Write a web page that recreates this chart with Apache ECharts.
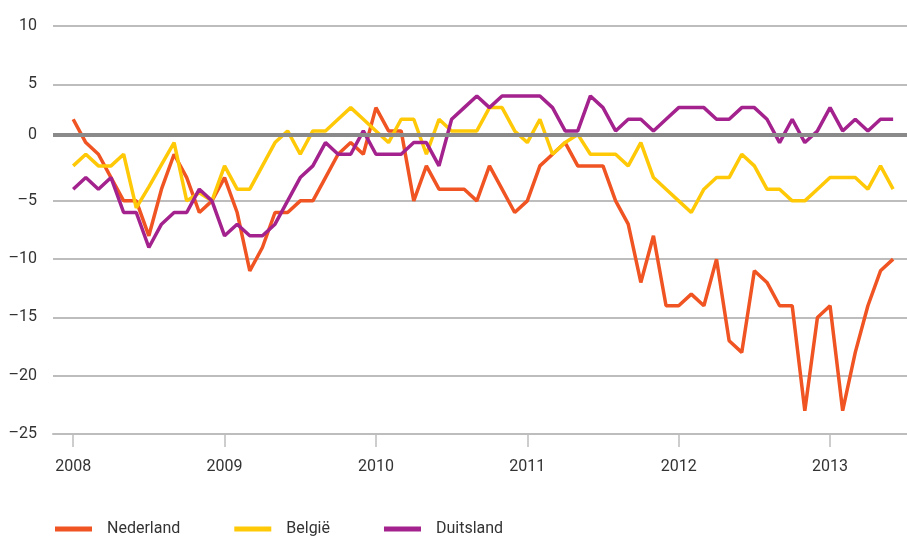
<!DOCTYPE html>
<html>
<head>
<meta charset="utf-8">
<script src="https://cdn.jsdelivr.net/npm/echarts@6/dist/echarts.min.js"></script>
<style>
  html, body { margin: 0; padding: 0; background: #fff; }
  #chart { width: 907px; height: 538px; }
</style>
</head>
<body>
<div id="chart"></div>
<script>
// maandcijfers jan 2008 t/m jun 2013
const years = [2008, 2009, 2010, 2011, 2012, 2013];
const yTicks = [-25, -20, -15, -10, -5, 0, 5, 10];

const nederland = [
  2, 0, -1, -3, -5, -5, -8, -4, -1, -3, -6, -5,
  -3, -6, -11, -9, -6, -6, -5, -5, -3, -1, 0, -1,
  3, 1, 1, -5, -2, -4, -4, -4, -5, -2, -4, -6,
  -5, -2, -1, 0, -2, -2, -2, -5, -7, -12, -8, -14,
  -14, -13, -14, -10, -17, -18, -11, -12, -14, -14, -23, -15,
  -14, -23, -18, -14, -11, -10
];
const belgie = [
  -2, -1, -2, -2, -1, -5.6, -3.8, -1.9, 0, -5, -4.3, -5,
  -2, -4, -4, -2, 0, 1, -1, 1, 1, 2, 3, 2,
  1, 0, 2, 2, -1, 2, 1, 1, 1, 3, 3, 1,
  0, 2, -1, 0, 0.7, -1, -1, -1, -2, 0, -3, -4,
  -5, -6, -4, -3, -3, -1, -2, -4, -4, -5, -5, -4,
  -3, -3, -3, -4, -2, -4
];
const duitsland = [
  -4, -3, -4, -3, -6, -6, -9, -7, -6, -6, -4, -5,
  -8, -7, -8, -8, -7, -5, -3, -2, 0, -1, -1, 1,
  -1, -1, -1, 0, 0, -2, 2, 3, 4, 3, 4, 4,
  4, 4, 3, 1, 1, 4, 3, 1, 2, 2, 1, 2,
  3, 3, 3, 2, 2, 3, 3, 2, 0, 2, 0, 1,
  3, 1, 2, 1, 2, 2
];

// de dikke nullijn staat in het origineel iets boven de 0-rasterlijn
const zeroLineAt = 0.65;

const toPoints = (arr) => arr.map((v, i) => [i, v]);
const yearTicks = years.map((y, i) => i * 12);
const font = "Roboto, 'Open Sans', sans-serif";
const textColor = "#333333";
const gridColor = "#bdbdbd";

const chart = echarts.init(document.getElementById("chart"));

const lineSeries = (name, data, color) => ({
  name: name,
  type: "line",
  data: toPoints(data),
  symbol: "none",
  smooth: false,
  lineStyle: { color: color, width: 3.5 },
  itemStyle: { color: color },
});

chart.setOption({
  animation: false,
  textStyle: { fontFamily: font },
  grid: { left: 53, right: 0, top: 26, bottom: 104 },
  xAxis: {
    type: "value",
    min: -1.6,
    max: 66.1,
    axisLine: { show: true, onZero: false, lineStyle: { color: gridColor, width: 2 } },
    axisTick: {
      show: true,
      customValues: yearTicks,
      length: 13,
      lineStyle: { color: gridColor, width: 1.5 },
    },
    axisLabel: {
      customValues: yearTicks,
      formatter: (v) => String(years[0] + Math.round(v / 12)),
      color: textColor,
      fontSize: 16,
      fontFamily: font,
      margin: 25,
    },
    splitLine: { show: false },
  },
  yAxis: {
    type: "value",
    min: yTicks[0],
    max: yTicks[yTicks.length - 1],
    interval: 5,
    axisLine: { show: false },
    axisTick: { show: false },
    axisLabel: {
      color: textColor,
      fontSize: 16,
      fontFamily: font,
      margin: 16,
      formatter: (v) => (v === 0 ? "" : v < 0 ? "\u2013" + Math.abs(v) : String(v)),
    },
    splitLine: {
      show: true,
      lineStyle: {
        color: yTicks.map((t) => (t === 0 ? "rgba(0,0,0,0)" : gridColor)),
        width: 2,
      },
    },
  },
  legend: {
    top: 516,
    left: 50,
    icon: "rect",
    itemWidth: 37,
    itemHeight: 5,
    itemGap: 54,
    textStyle: {
      color: textColor,
      fontSize: 16,
      fontFamily: font,
      padding: [0, 0, 0, 10],
    },
    data: ["Nederland", "België", "Duitsland"],
  },
  series: [
    lineSeries("Nederland", nederland, "#f05423"),
    lineSeries("België", belgie, "#ffc907"),
    lineSeries("Duitsland", duitsland, "#a3228d"),
    {
      name: "nullijn",
      type: "line",
      data: [],
      z: 5,
      markLine: {
        silent: true,
        symbol: "none",
        lineStyle: { color: "#8a8a8a", width: 4, type: "solid" },
        label: {
          show: true,
          position: "start",
          distance: 16,
          formatter: "0",
          color: textColor,
          fontSize: 16,
          fontFamily: font,
        },
        data: [{ yAxis: zeroLineAt }],
      },
    },
  ],
});
</script>
</body>
</html>
